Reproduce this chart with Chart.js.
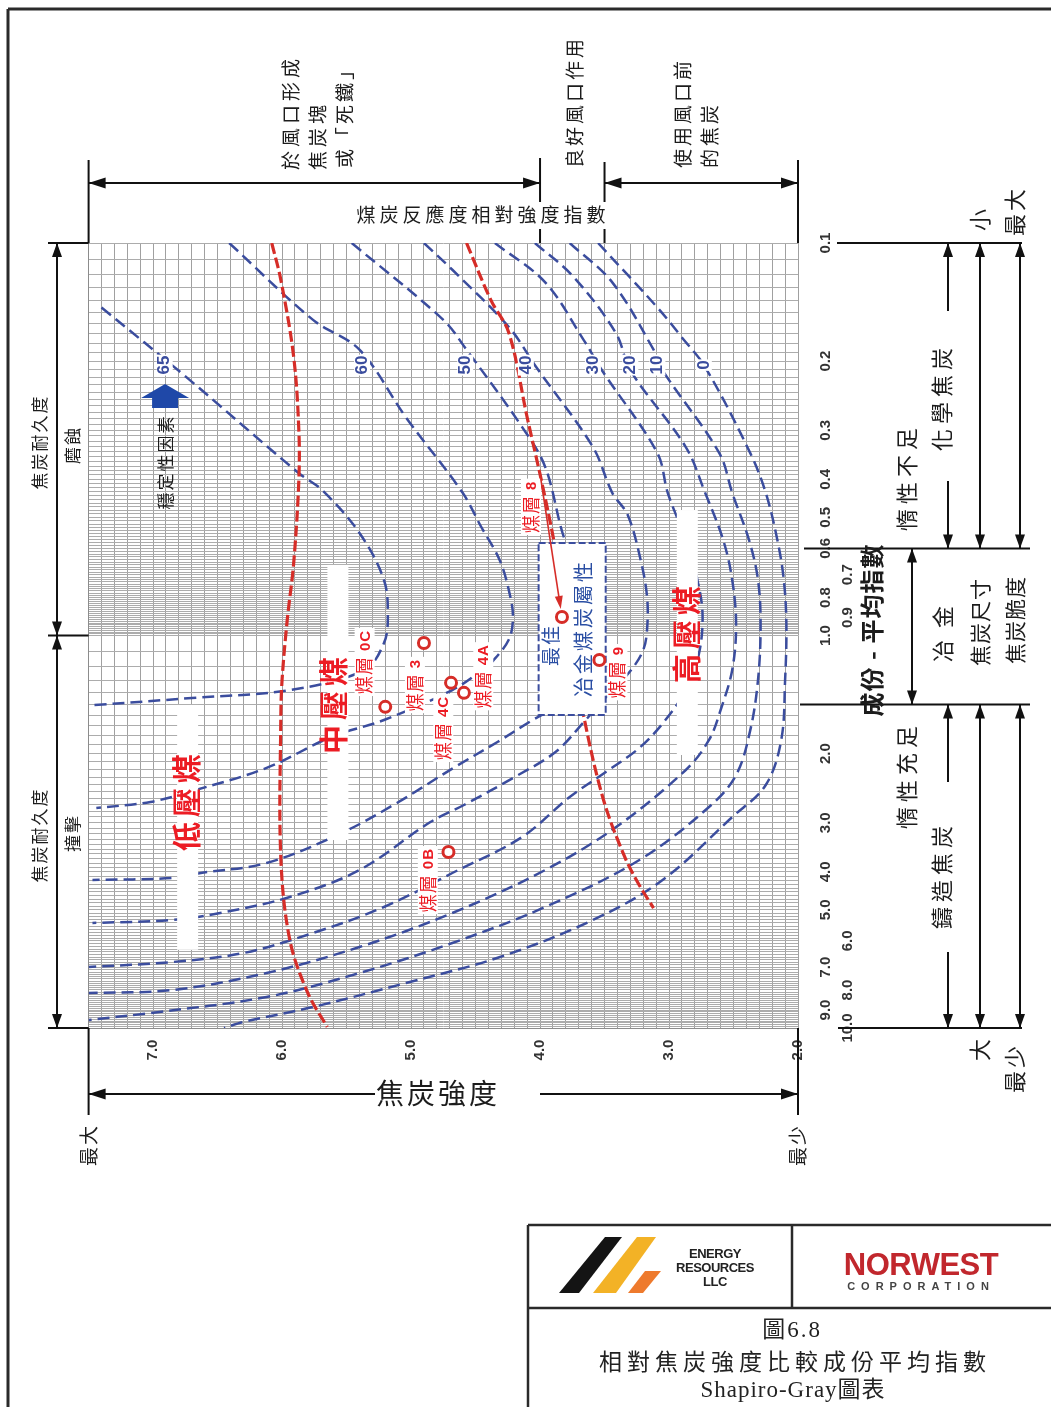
<!DOCTYPE html>
<html lang="zh-Hant"><head><meta charset="utf-8">
<title>Shapiro-Gray</title>
<script src="https://cdn.jsdelivr.net/npm/chart.js@4.4.1/dist/chart.umd.min.js"></script>
<style>
html,body{margin:0;padding:0;background:#fff;overflow:hidden}
#wrap{position:relative;width:1051px;height:1407px}
</style></head><body>
<div id="wrap"><canvas id="c"></canvas></div>
<script>
// ---------- values ----------
const strengthTicks = [7.0, 6.0, 5.0, 4.0, 3.0, 2.0];
const cbiTicksA = [0.1,0.2,0.3,0.4,0.5,0.6,0.8,1.0,2.0,3.0,4.0,5.0,7.0,9.0];
const cbiTicksB = [0.7,0.9,6.0,8.0,10.0];
const stabilityLabels = ['65','60','50','40','30','20','10','0'];

// each point: [coke strength index, composition balance index]
const curve65 = [[7.40,0.146],[6.74,0.220],[5.87,0.386],[5.69,0.426],[5.40,0.548],[5.21,0.722],[5.18,0.897],[5.21,1.045],[5.36,1.224],[5.94,1.377],[6.70,1.443],[7.46,1.504]];
const curve60 = [[6.41,0.100],[5.76,0.157],[5.40,0.187],[5.04,0.278],[4.60,0.433],[4.46,0.526],[4.31,0.646],[4.23,0.798],[4.21,0.903],[4.24,1.021],[4.36,1.155],[4.46,1.232],[4.68,1.377],[5.21,1.642],[5.62,1.814],[6.12,2.175],[6.67,2.475],[7.02,2.655],[7.44,2.751]];
const curve50 = [[5.46,0.100],[4.75,0.157],[4.57,0.187],[4.14,0.294],[3.96,0.372],[3.80,0.581],[3.61,0.766],[3.55,0.940],[3.61,1.224],[3.80,1.460],[4.07,1.651],[4.33,1.868],[4.66,2.163],[5.11,2.671],[5.54,3.187],[6.12,3.799],[6.63,4.028],[6.85,4.148],[7.47,4.197]];
const curve40 = [[4.90,0.100],[4.68,0.117],[4.24,0.164],[4.03,0.207],[3.59,0.331],[3.44,0.433],[3.32,0.493],[3.22,0.642],[3.17,0.798],[3.17,0.963],[3.20,1.089],[3.30,1.232],[3.51,1.460],[3.66,1.661],[3.88,1.981],[4.21,2.307],[4.59,2.703],[4.85,2.987],[5.40,3.958],[5.94,4.637],[6.48,5.093],[6.85,5.306],[7.47,5.401]];
const curve30 = [[4.35,0.100],[3.96,0.126],[3.66,0.177],[3.52,0.211],[3.09,0.343],[3.01,0.433],[2.87,0.571],[2.78,0.722],[2.74,0.887],[2.77,1.121],[2.87,1.377],[3.04,1.661],[3.23,1.934],[3.49,2.227],[3.77,2.579],[4.14,3.262],[4.68,4.028],[5.21,4.917],[5.76,5.728],[6.30,6.441],[6.85,6.790],[7.50,6.993]];
const curve20 = [[4.04,0.100],[3.74,0.122],[3.41,0.170],[3.30,0.211],[2.87,0.331],[2.72,0.433],[2.58,0.571],[2.51,0.722],[2.48,0.940],[2.51,1.224],[2.60,1.548],[2.69,1.846],[2.87,2.201],[3.41,3.076],[3.96,3.958],[4.68,5.093],[5.40,6.218],[6.12,7.243],[6.85,8.003],[7.50,8.145]];
const curve10 = [[3.77,0.100],[3.44,0.126],[3.12,0.187],[3.05,0.211],[2.61,0.343],[2.51,0.433],[2.38,0.571],[2.31,0.722],[2.29,0.940],[2.31,1.298],[2.37,1.742],[2.48,2.267],[2.69,2.735],[3.23,3.733],[3.96,4.917],[4.68,6.074],[5.40,7.243],[6.12,8.338],[7.02,9.157],[7.50,9.541]];
const curve0  = [[3.55,0.100],[3.09,0.146],[2.90,0.174],[2.72,0.207],[2.37,0.343],[2.25,0.433],[2.16,0.571],[2.11,0.722],[2.09,0.940],[2.10,1.298],[2.13,1.846],[2.25,2.404],[2.51,2.901],[3.05,4.197],[3.59,5.306],[4.31,6.594],[5.04,7.681],[5.76,8.841],[6.30,9.654],[6.45,10.0]];
const redLeft  = [[6.08,0.100],[6.01,0.124],[5.91,0.195],[5.87,0.300],[5.87,0.402],[5.91,0.654],[5.96,0.913],[6.00,1.298],[6.01,1.642],[6.01,3.667],[5.94,5.968],[5.80,8.145],[5.65,9.94]];
const redRight = [[4.57,0.100],[4.38,0.140],[4.24,0.170],[4.10,0.278],[3.99,0.402],[3.89,0.581],[3.78,0.968],[3.66,1.613],[3.51,2.609],[3.35,3.624],[3.24,4.272],[3.12,4.947]];
const seamNames    = ['0C','3','4C','4A','0B','8','9'];
const seamStrength = [5.20,4.90,4.69,4.59,4.71,3.83,3.54];
const seamCBI      = [1.52,1.045,1.32,1.40,3.56,0.897,1.155];

// ---------- annotation placement (in data units) ----------
const curveLabelAt = {cbi:0.2047, s:[6.91,5.38,4.58,4.11,3.59,3.30,3.09,2.73]};
const seamLabelAt = [[5.36,1.168],[4.97,1.337],[4.75,1.72],[4.44,1.27],[4.87,4.20],[4.07,0.47],[3.40,1.24]];
const arrow8From = [3.995,0.397];
const bigLabels = [
  {t:'低壓煤', s:6.736, c:2.625, strip:[6.736,1.503,6.32]},
  {t:'中壓煤', s:5.60,  c:1.486, strip:[5.571,0.661,3.32]},
  {t:'高壓煤', s:2.862, c:0.980, strip:[2.862,0.479,2.016]}
];
const bestBox = {s:[4.011,3.491], c:[0.581,1.594]};
const stabAt = [6.907,0.2454];

const CJK = '"Noto Sans CJK TC","Noto Sans CJK SC",sans-serif';
const SERIF = '"Liberation Serif","Noto Sans CJK TC",serif';
const SANS = '"Liberation Sans",Arial,sans-serif';
const BLUE = '#3b4d9e', RED = '#d62d28', REDT = '#ec1c24', BLUET = '#2a4ea3', INK = '#1c1c1c';

const gridX = []; for (let i = 20; i <= 75; i++) gridX.push(i / 10);
const gridY = []; for (let i = 10; i < 100; i++) gridY.push(i / 100); for (let i = 10; i <= 100; i++) gridY.push(i / 10);

const pts = a => a.map(p => ({x: p[0], y: p[1]}));
const curves = [curve65, curve60, curve50, curve40, curve30, curve20, curve10, curve0];

// ---------- drawing helpers ----------
function rtext(ctx, t, x, y, font, color, o = {}) {
  ctx.save(); ctx.translate(x, y); ctx.rotate(-Math.PI / 2);
  ctx.font = font; ctx.letterSpacing = (o.ls || 0) + 'px';
  ctx.textAlign = o.align || 'center'; ctx.textBaseline = 'middle';
  if (o.bg) {
    const w = ctx.measureText(t).width, h = o.bgh || 20, p = o.pad || 2;
    const x0 = o.align === 'left' ? 0 : (o.align === 'right' ? -w : -w / 2);
    ctx.fillStyle = o.bg; ctx.fillRect(x0 - p, -h / 2, w + 2 * p, h);
  }
  ctx.fillStyle = color; ctx.fillText(t, 0, 0); ctx.restore();
}
function htext(ctx, t, x, y, font, color, o = {}) {
  ctx.save(); ctx.font = font; ctx.letterSpacing = (o.ls || 0) + 'px';
  ctx.textAlign = o.align || 'center'; ctx.textBaseline = 'middle';
  ctx.fillStyle = color; ctx.fillText(t, x, y); ctx.restore();
}
function seg(ctx, x1, y1, x2, y2) { ctx.beginPath(); ctx.moveTo(x1, y1); ctx.lineTo(x2, y2); ctx.stroke(); }
function head(ctx, x, y, ang, len, wid) {
  ctx.beginPath(); ctx.moveTo(x, y);
  ctx.lineTo(x - len * Math.cos(ang) + wid / 2 * Math.sin(ang), y - len * Math.sin(ang) - wid / 2 * Math.cos(ang));
  ctx.lineTo(x - len * Math.cos(ang) - wid / 2 * Math.sin(ang), y - len * Math.sin(ang) + wid / 2 * Math.cos(ang));
  ctx.closePath(); ctx.fill();
}
function arrow(ctx, x1, y1, x2, y2, h1, h2, len = 14, wid = 10) {
  const a = Math.atan2(y2 - y1, x2 - x1);
  seg(ctx, x1, y1, x2, y2);
  if (h1) head(ctx, x1, y1, a + Math.PI, len, wid);
  if (h2) head(ctx, x2, y2, a, len, wid);
}
function seamLabel(ctx, name, x, y) {
  ctx.save(); ctx.translate(x, y); ctx.rotate(-Math.PI / 2);
  const f1 = '18px ' + CJK, f2 = 'bold 15px ' + SANS;
  ctx.letterSpacing = '1px';
  ctx.font = f1; const w1 = ctx.measureText('煤層').width;
  ctx.font = f2; const w2 = ctx.measureText(name).width;
  const gap = 5, W = w1 + gap + w2;
  ctx.fillStyle = '#fff'; ctx.fillRect(-W / 2 - 2, -10, W + 4, 20);
  ctx.fillStyle = REDT; ctx.textBaseline = 'middle'; ctx.textAlign = 'left';
  ctx.font = f1; ctx.fillText('煤層', -W / 2, 0);
  ctx.font = f2; ctx.fillText(name, -W / 2 + w1 + gap, 1);
  ctx.restore();
}
function poly(ctx, p, col) { ctx.beginPath(); ctx.moveTo(p[0][0], p[0][1]); for (let i = 1; i < p.length; i++) ctx.lineTo(p[i][0], p[i][1]); ctx.closePath(); ctx.fillStyle = col; ctx.fill(); }

const SEAM_IDX = curves.length + 2;

const deco = {
  id: 'deco',
  beforeDatasetDraw(chart, args) {
    if (args.index !== SEAM_IDX) return;
    const ctx = chart.ctx, X = v => chart.scales.x.getPixelForValue(v), Y = v => chart.scales.y.getPixelForValue(v);
    ctx.save();
    ctx.fillStyle = '#fff';
    bigLabels.forEach(b => { const x = X(b.strip[0]); const y1 = Y(b.strip[1]), y2 = Y(b.strip[2]); ctx.fillRect(x - 10, y1, 21, y2 - y1); });
    const bx1 = X(bestBox.s[0]), bx2 = X(bestBox.s[1]), by1 = Y(bestBox.c[0]), by2 = Y(bestBox.c[1]);
    ctx.fillStyle = '#fff'; ctx.fillRect(bx1, by1, bx2 - bx1, by2 - by1);
    ctx.setLineDash([7, 3]); ctx.strokeStyle = BLUE; ctx.lineWidth = 2;
    ctx.strokeRect(bx1, by1, bx2 - bx1, by2 - by1); ctx.setLineDash([]);
    stabilityLabels.forEach((t, i) => rtext(ctx, t, X(curveLabelAt.s[i]), Y(curveLabelAt.cbi), 'bold 17px ' + SANS, BLUE, {bg: '#fff', bgh: 16, pad: 1}));
    const ax = X(stabAt[0]), ay = Y(stabAt[1]);
    poly(ctx, [[ax, ay - 12], [ax + 24, ay + 2], [ax + 13, ay + 2], [ax + 13, ay + 12], [ax - 13, ay + 12], [ax - 13, ay + 2], [ax - 24, ay + 2]], '#1f48a8');
    rtext(ctx, '穩定性因素', ax, Y(0.3614), '17px ' + CJK, INK, {ls: 2});
    ctx.restore();
  },
  afterDatasetsDraw(chart) {
    const ctx = chart.ctx, X = v => chart.scales.x.getPixelForValue(v), Y = v => chart.scales.y.getPixelForValue(v);
    ctx.save();
    seamNames.forEach((n, i) => seamLabel(ctx, n, X(seamLabelAt[i][0]), Y(seamLabelAt[i][1])));
    bigLabels.forEach(b => rtext(ctx, b.t, X(b.s), Y(b.c), 'bold 29px ' + CJK, REDT, {ls: 5}));
    rtext(ctx, '最佳', X(3.918), Y(1.057), '19px ' + CJK, BLUET, {ls: 2});
    rtext(ctx, '冶金煤炭屬性', X(3.661), Y(0.957), '20px ' + CJK, BLUET, {ls: 3});
    const x1 = X(arrow8From[0]), y1 = Y(arrow8From[1]), x2 = X(seamStrength[5]), y2 = Y(seamCBI[5]);
    const a = Math.atan2(y2 - y1, x2 - x1), tx = x2 - 8 * Math.cos(a), ty = y2 - 8 * Math.sin(a);
    ctx.strokeStyle = RED; ctx.fillStyle = RED; ctx.lineWidth = 1.6;
    seg(ctx, x1, y1, tx - 8 * Math.cos(a), ty - 8 * Math.sin(a)); head(ctx, tx, ty, a, 13, 8);
    ctx.restore();
  },
  afterDraw(chart) {
    const ctx = chart.ctx, ca = chart.chartArea, X = v => chart.scales.x.getPixelForValue(v), Y = v => chart.scales.y.getPixelForValue(v);
    ctx.save();
    const tf = 'bold 15px ' + SANS;
    strengthTicks.forEach(v => rtext(ctx, v.toFixed(1), X(v), ca.bottom + 22, tf, '#333'));
    cbiTicksA.forEach(v => rtext(ctx, v.toFixed(1), ca.right + 28, Y(v), tf, '#333'));
    cbiTicksB.forEach(v => rtext(ctx, v.toFixed(1), ca.right + 50, Y(v), tf, '#333'));

    ctx.strokeStyle = '#111'; ctx.fillStyle = '#111'; ctx.lineWidth = 2;
    const xL = X(7.5), x4 = X(4.0), x35 = X(3.5), xR = X(2.0);
    const yT = Y(0.1), yB = Y(10), y06 = Y(0.6), y15 = Y(1.5), y1 = Y(1.0);
    seg(ctx, xL, 160, xL, yT); seg(ctx, x4, 158, x4, yT); seg(ctx, x35, 162, x35, yT); seg(ctx, xR, 160, xR, yT);
    arrow(ctx, xL, 183, x4, 183, true, true, 17, 11); arrow(ctx, x35, 183, xR, 183, true, true, 17, 11);
    ctx.fillStyle = '#fff'; ctx.fillRect(350, 202, 266, 27);
    htext(ctx, '煤炭反應度相對強度指數', 483, 215, '19px ' + CJK, INK, {ls: 4});
    const tf2 = '19px ' + CJK;
    rtext(ctx, '於風口形成', 291, 170, tf2, INK, {align: 'left', ls: 4});
    rtext(ctx, '焦炭塊', 318, 170, tf2, INK, {align: 'left', ls: 4});
    rtext(ctx, '或「死鐵」', 345, 168, tf2, INK, {align: 'left', ls: 3});
    rtext(ctx, '良好風口作用', 575, 168, tf2, INK, {align: 'left', ls: 3});
    rtext(ctx, '使用風口前', 683, 168, tf2, INK, {align: 'left', ls: 3});
    rtext(ctx, '的焦炭', 710, 168, tf2, INK, {align: 'left', ls: 3});

    ctx.strokeStyle = '#111'; ctx.fillStyle = '#111';
    seg(ctx, ca.right + 39, yT, 1022, yT); seg(ctx, ca.right + 6, y06, 1030, y06);
    seg(ctx, ca.right + 2, y15, 1030, y15); seg(ctx, ca.right + 40, yB, 1022, yB);
    head(ctx, 948, yT, -Math.PI / 2, 14, 10); seg(ctx, 948, yT, 948, 311);
    seg(ctx, 948, 481, 948, y06); head(ctx, 948, y06, Math.PI / 2, 14, 10);
    arrow(ctx, 980, yT, 980, y06, true, true); arrow(ctx, 1020, yT, 1020, y06, true, true);
    arrow(ctx, 912, y06, 912, y15, true, true);
    head(ctx, 948, y15, -Math.PI / 2, 14, 10); seg(ctx, 948, y15, 948, 782);
    seg(ctx, 948, 952, 948, yB); head(ctx, 948, yB, Math.PI / 2, 14, 10);
    arrow(ctx, 980, y15, 980, yB, true, true); arrow(ctx, 1020, y15, 1020, yB, true, true);
    const rf = '22px ' + CJK;
    rtext(ctx, '小', 980, 220, rf, INK);
    rtext(ctx, '最大', 1015, 211, rf, INK, {ls: 3});
    rtext(ctx, '惰性不足', 907, 477, rf, INK, {ls: 5});
    rtext(ctx, '化學焦炭', 942, 397, rf, INK, {ls: 5});
    rtext(ctx, '成份 - 平均指數', 872, 630, 'bold 24px ' + CJK, INK, {ls: 1});
    rtext(ctx, '冶金', 943, 628, rf, INK, {ls: 12});
    rtext(ctx, '焦炭尺寸', 980, 622, '21px ' + CJK, INK, {ls: 1});
    rtext(ctx, '焦炭脆度', 1015, 620, '21px ' + CJK, INK, {ls: 1});
    rtext(ctx, '惰性充足', 907, 775, rf, INK, {ls: 5});
    rtext(ctx, '鑄造焦炭', 942, 875, rf, INK, {ls: 5});
    rtext(ctx, '大', 980, 1050, rf, INK);
    rtext(ctx, '最少', 1015, 1068, rf, INK, {ls: 3});

    seg(ctx, 48, yT, xL, yT); seg(ctx, 48, y1, xL, y1); seg(ctx, 48, yB, xL, yB);
    arrow(ctx, 57, yT, 57, y1, true, true); arrow(ctx, 57, y1, 57, yB, true, true);
    const lf = '17px ' + CJK;
    rtext(ctx, '焦炭耐久度', 40, 442, lf, INK, {ls: 2});
    rtext(ctx, '磨蝕', 73, 445, lf, INK, {ls: 2});
    rtext(ctx, '焦炭耐久度', 40, 835, lf, INK, {ls: 2});
    rtext(ctx, '撞擊', 73, 833, lf, INK, {ls: 2});

    seg(ctx, xL, yB, xL, 1115); seg(ctx, xR, yB, xR, 1115);
    arrow(ctx, xL, 1094, 375, 1094, true, false, 17, 11); arrow(ctx, 540, 1094, xR, 1094, false, true, 17, 11);
    htext(ctx, '焦炭強度', 438, 1093, '28px ' + CJK, INK, {ls: 3});
    rtext(ctx, '最大', xL, 1145, '19px ' + CJK, INK, {ls: 2});
    rtext(ctx, '最少', xR, 1145, '19px ' + CJK, INK, {ls: 2});

    ctx.strokeStyle = '#2a2a2a'; ctx.lineWidth = 3;
    seg(ctx, 8, 9, 1051, 9); seg(ctx, 8, 9, 8, 1407);
    ctx.lineWidth = 2.5;
    seg(ctx, 528, 1225, 1051, 1225); seg(ctx, 528, 1225, 528, 1407);
    seg(ctx, 528, 1308, 1051, 1308); seg(ctx, 792, 1225, 792, 1308);
    poly(ctx, [[559, 1293], [605, 1237], [622, 1237], [579, 1293]], '#141414');
    poly(ctx, [[593, 1293], [637, 1237], [656, 1237], [616, 1293]], '#f3b226');
    poly(ctx, [[628, 1293], [645, 1271], [661, 1271], [643, 1293]], '#ee7a2d');
    const ef = 'bold 13px ' + SANS;
    htext(ctx, 'ENERGY', 715, 1254, ef, '#222', {ls: -0.5});
    htext(ctx, 'RESOURCES', 715, 1268, ef, '#222', {ls: -0.5});
    htext(ctx, 'LLC', 715, 1282, ef, '#222', {ls: -0.5});
    htext(ctx, 'NORWEST', 921, 1266, 'bold 31px ' + SANS, '#c1272d', {ls: -0.5});
    htext(ctx, 'CORPORATION', 921, 1287, 'bold 11px ' + SANS, '#444', {ls: 6});
    htext(ctx, '圖6.8', 792, 1331, '23px ' + SERIF, '#222', {ls: 2});
    htext(ctx, '相對焦炭強度比較成份平均指數', 795, 1361, '23px ' + CJK, '#222', {ls: 5});
    htext(ctx, 'Shapiro-Gray圖表', 793, 1391, '23px ' + SERIF, '#222', {ls: 1});
    ctx.restore();
  }
};

const datasets = curves.map(c => ({
  data: pts(c), showLine: true, borderColor: BLUE, borderWidth: 2.5, borderDash: [12, 6],
  pointRadius: 0, tension: 0.35, fill: false, order: 3
}));
datasets.push({data: pts(redLeft), showLine: true, borderColor: RED, borderWidth: 3.2, borderDash: [11, 4], pointRadius: 0, tension: 0.35, fill: false, order: 2});
datasets.push({data: pts(redRight), showLine: true, borderColor: RED, borderWidth: 3.2, borderDash: [11, 4], pointRadius: 0, tension: 0.35, fill: false, order: 2});
datasets.push({data: seamStrength.map((s, i) => ({x: s, y: seamCBI[i]})), showLine: false, pointRadius: 5.5, pointBorderWidth: 3, pointBorderColor: RED, pointBackgroundColor: '#fff', order: 0});

new Chart(document.getElementById('c'), {
  type: 'scatter',
  data: {datasets},
  options: {
    responsive: true, maintainAspectRatio: false, animation: false, devicePixelRatio: 1,
    layout: {padding: {left: 88.6, top: 243, right: 253, bottom: 379}},
    plugins: {legend: {display: false}, tooltip: {enabled: false}},
    scales: {
      x: {type: 'linear', min: 2.0, max: 7.5, reverse: true,
        afterBuildTicks: a => { a.ticks = gridX.map(v => ({value: v})); },
        ticks: {display: false}, grid: {color: '#a0a0a0', lineWidth: 1, drawTicks: false},
        border: {display: true, color: '#8c8c8c'}},
      y: {type: 'logarithmic', min: 0.1, max: 10, reverse: true,
        afterBuildTicks: a => { a.ticks = gridY.map(v => ({value: v})); },
        ticks: {display: false}, grid: {color: '#acacac', lineWidth: 1, drawTicks: false},
        border: {display: true, color: '#8c8c8c'}}
    }
  },
  plugins: [deco]
});
</script>
</body></html>
